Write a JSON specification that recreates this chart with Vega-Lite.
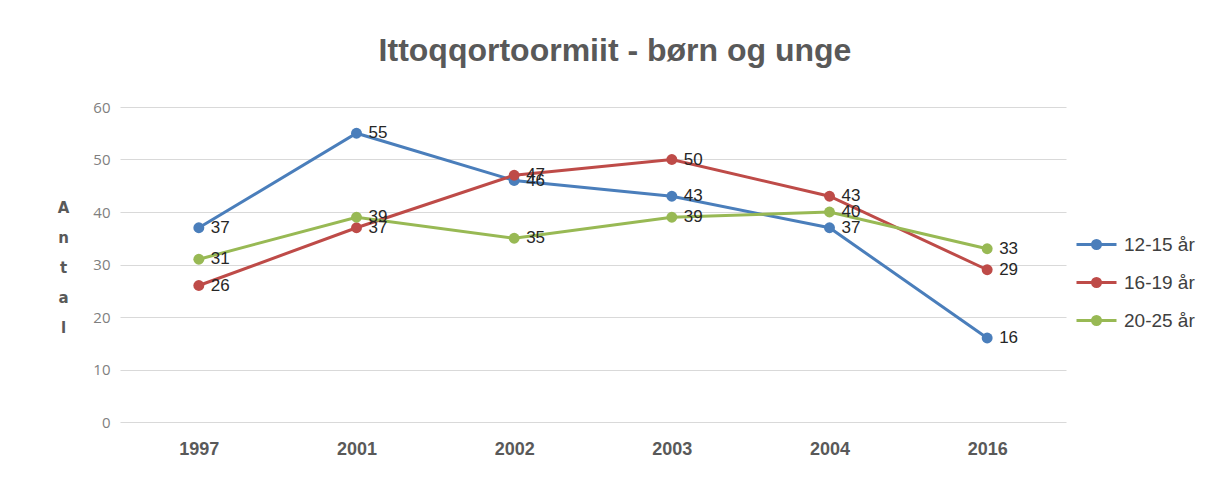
{
  "$schema": "https://vega.github.io/schema/vega-lite/v6.json",
  "width": 946,
  "height": 315,
  "autosize": {"type": "none"},
  "padding": {"left": 120, "right": 147, "top": 107, "bottom": 60},
  "background": "white",
  "title": {
    "text": "Ittoqqortoormiit - børn og unge",
    "font": "Liberation Sans",
    "fontSize": 32,
    "fontWeight": "bold",
    "color": "#595959",
    "anchor": "middle",
    "frame": "group",
    "offset": 32,
    "dx": 22
  },
  "data": {
    "values": [
      {"year": "1997", "group": "12-15 år", "value": 37},
      {"year": "2001", "group": "12-15 år", "value": 55},
      {"year": "2002", "group": "12-15 år", "value": 46},
      {"year": "2003", "group": "12-15 år", "value": 43},
      {"year": "2004", "group": "12-15 år", "value": 37},
      {"year": "2016", "group": "12-15 år", "value": 16},
      {"year": "1997", "group": "16-19 år", "value": 26},
      {"year": "2001", "group": "16-19 år", "value": 37},
      {"year": "2002", "group": "16-19 år", "value": 47},
      {"year": "2003", "group": "16-19 år", "value": 50},
      {"year": "2004", "group": "16-19 år", "value": 43},
      {"year": "2016", "group": "16-19 år", "value": 29},
      {"year": "1997", "group": "20-25 år", "value": 31},
      {"year": "2001", "group": "20-25 år", "value": 39},
      {"year": "2002", "group": "20-25 år", "value": 35},
      {"year": "2003", "group": "20-25 år", "value": 39},
      {"year": "2004", "group": "20-25 år", "value": 40},
      {"year": "2016", "group": "20-25 år", "value": 33}
    ]
  },
  "encoding": {
    "x": {
      "field": "year",
      "type": "ordinal",
      "scale": {"type": "point", "padding": 0.5},
      "axis": {
        "title": null,
        "labelAngle": 0,
        "labelFont": "Liberation Sans",
        "labelFontSize": 18,
        "labelFontWeight": "bold",
        "labelColor": "#595959",
        "labelPadding": 18,
        "domain": false,
        "ticks": false,
        "grid": false
      }
    },
    "y": {
      "field": "value",
      "type": "quantitative",
      "scale": {"domain": [0, 60], "nice": false},
      "axis": {
        "values": [0, 10, 20, 30, 40, 50, 60],
        "title": ["A", "n", "t", "a", "l"],
        "titleAngle": 0,
        "titleFont": "DejaVu Sans",
        "titleFontSize": 15,
        "titleFontWeight": "bold",
        "titleColor": "#595959",
        "titleLineHeight": 30,
        "titleAlign": "center",
        "titleBaseline": "middle",
        "titleX": -57,
        "titleY": 100,
        "labelFont": "Open Sans",
        "labelFontSize": 15,
        "labelColor": "#7F7F7F",
        "labelPadding": 10,
        "domain": false,
        "ticks": false,
        "gridColor": "#D9D9D9",
        "gridWidth": 1
      }
    },
    "color": {
      "field": "group",
      "type": "nominal",
      "scale": {"range": ["#4A7EBB", "#BE4B48", "#98B954"]},
      "legend": {
        "title": null,
        "orient": "none",
        "legendX": 955,
        "legendY": 116,
        "symbolType": "M-1,0H1M0.2,0A0.2,0.2 0 1,1 -0.2,0A0.2,0.2 0 1,1 0.2,0Z",
        "symbolSize": 1600,
        "symbolStrokeWidth": 3,
        "labelFont": "Liberation Sans",
        "labelFontSize": 19,
        "labelColor": "#404040",
        "labelOffset": 6,
        "rowPadding": 6
      }
    }
  },
  "layer": [
    {"mark": {"type": "line", "strokeWidth": 3, "point": {"filled": true, "size": 120}}},
    {
      "mark": {
        "type": "text",
        "align": "left",
        "baseline": "middle",
        "dx": 12,
        "font": "Liberation Sans",
        "fontSize": 17,
        "color": "#262626"
      },
      "encoding": {"text": {"field": "value", "type": "quantitative"}, "color": {"value": "#262626"}}
    }
  ],
  "config": {"view": {"stroke": null}}
}
